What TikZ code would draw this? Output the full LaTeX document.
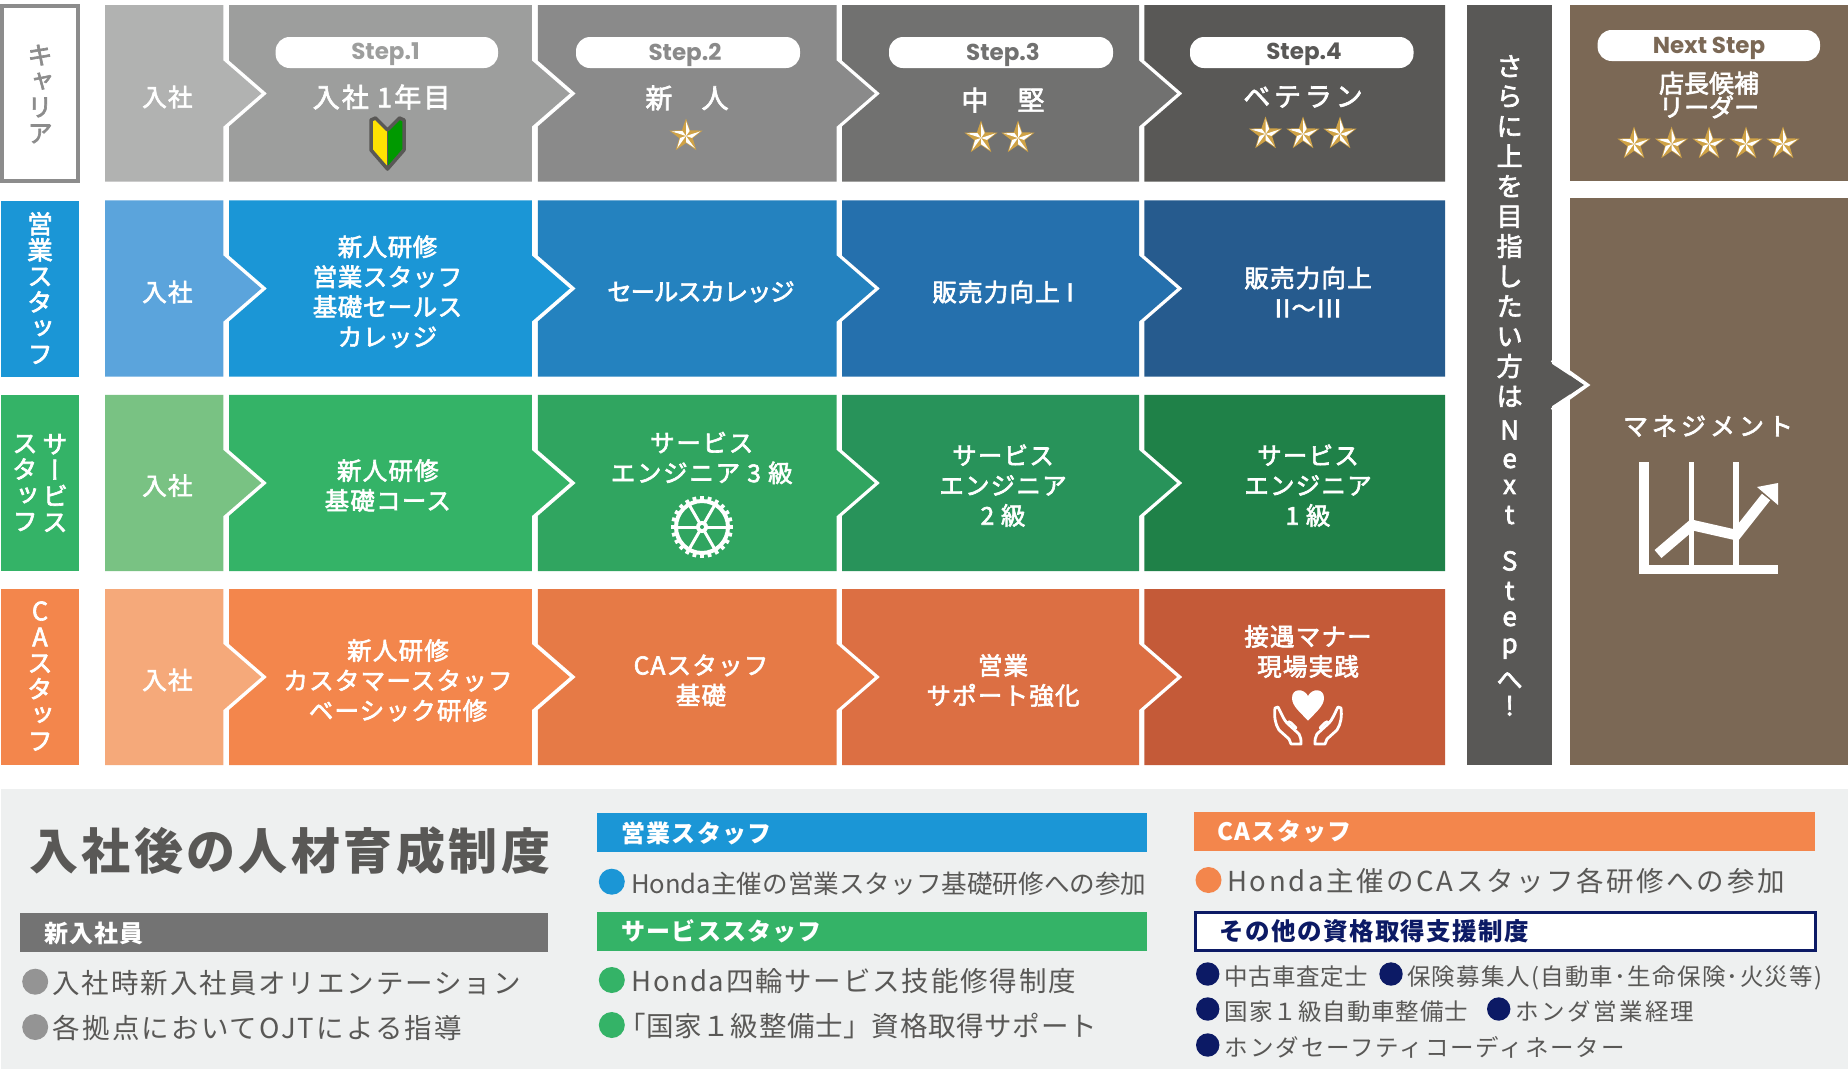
\documentclass[tikz,border=0pt]{standalone}
\usepackage{fontspec}
\setmainfont{Noto Sans CJK JP}
\newfontfamily\medf[FakeBold=2.5]{Noto Sans CJK JP}
\newfontfamily\vertf[FakeBold=2.5,RawFeature={+vert}]{Noto Sans CJK JP}
\newfontfamily\stepf{Poppins}
\newcommand\fsz[2]{\fontsize{#1}{#2}\selectfont}
\newcommand\ls[1]{\addfontfeature{LetterSpace=#1}}
\definecolor{ink}{HTML}{595856}
\definecolor{navy}{HTML}{0C1A65}
\definecolor{gold}{HTML}{CFA246}
\definecolor{brownbox}{HTML}{7B6855}
\definecolor{panel}{HTML}{EEF0F0}
\definecolor{blue1}{HTML}{1B96D6}
\definecolor{green1}{HTML}{34B367}
\definecolor{orange1}{HTML}{F3864C}
\definecolor{k0}{HTML}{B1B2B1}\definecolor{k1}{HTML}{9D9E9D}\definecolor{k2}{HTML}{8A8A8A}\definecolor{k3}{HTML}{717170}
\definecolor{b0}{HTML}{5BA4DC}\definecolor{b2}{HTML}{2482BF}\definecolor{b3}{HTML}{2570AD}\definecolor{b4}{HTML}{265B8E}
\definecolor{g0}{HTML}{79C283}\definecolor{g2}{HTML}{30A560}\definecolor{g3}{HTML}{28935A}\definecolor{g4}{HTML}{1F8148}
\definecolor{o0}{HTML}{F5A97A}\definecolor{o2}{HTML}{E67A46}\definecolor{o3}{HTML}{DC6F43}\definecolor{o4}{HTML}{C45A38}
\tikzset{
  lab/.style={text=white,align=center,inner sep=0pt,font=\medf\fsz{24.5}{30}\ls{5}},
  vlab/.style={text=white,align=center,inner sep=0pt,font=\vertf\fsz{25.5}{26}},
  pill/.style={fill=white,rounded corners=14pt},
  steptext/.style={inner sep=0pt,font=\stepf\bfseries\fsz{23}{26}},
  bar/.style={text=white,anchor=west,inner sep=0pt,font=\bfseries\fsz{24}{28}\ls{5}},
  item/.style={text=ink,anchor=base west,inner sep=0pt,font=\fsz{27.5}{30}\ls{4}},
  small/.style={text=ink,anchor=base west,inner sep=0pt,font=\fsz{23.5}{28}\ls{2}},
}
% one row of blocks: top, centre, bottom, five colours
\newcommand\blockrow[8]{%
  \fill[#4] (105.2,#1) -- (223.4,#1) -- (223.4,#2-33) -- (261.4,#2) -- (223.4,#2+33) -- (223.4,#3) -- (105.2,#3) -- cycle;
  \fill[#5] (229,#1) -- (229,#2-33) -- (267,#2) -- (229,#2+33) -- (229,#3) -- (531.8,#3) -- (531.8,#2+33) -- (569.8,#2) -- (531.8,#2-33) -- (531.8,#1) -- cycle;
  \fill[#6] (537.8,#1) -- (537.8,#2-33) -- (575.8,#2) -- (537.8,#2+33) -- (537.8,#3) -- (836.7,#3) -- (836.7,#2+33) -- (874.7,#2) -- (836.7,#2-33) -- (836.7,#1) -- cycle;
  \fill[#7] (842,#1) -- (842,#2-33) -- (880,#2) -- (842,#2+33) -- (842,#3) -- (1139,#3) -- (1139,#2+33) -- (1177,#2) -- (1139,#2-33) -- (1139,#1) -- cycle;
  \fill[#8] (1144.4,#1) -- (1144.4,#2-33) -- (1182.4,#2) -- (1144.4,#2+33) -- (1144.4,#3) -- (1445,#3) -- (1445,#1) -- cycle;
}
\newcommand\gstar[2]{%
  \begin{scope}[shift={(#1,#2)}]
    \fill[gold] (-90:17.5) -- (-54:7) -- (-18:17.5) -- (18:7) -- (54:17.5) -- (90:7) -- (126:17.5) -- (162:7) -- (198:17.5) -- (234:7) -- cycle;
    \foreach \a in {-90,-18,54,126,198} {\fill[white] (0,0) -- (\a:15) -- (\a+36:6.2) -- cycle;}
  \end{scope}}
\newcommand\dotb[4]{\fill[#4] (#1,#2) circle[radius=#3];}
\begin{document}
\begin{tikzpicture}[x=1pt,y=-1pt]
\useasboundingbox (0,0) rectangle (1848,1069);
\fill[white] (0,0) rectangle (1848,1069);
% left labels
\draw[color=black!45,line width=3.5pt,fill=white] (2,6) rectangle (78,181);
\fill[blue1] (1,201) rectangle (79,376.7);
\fill[green1] (1,395) rectangle (79,571);
\fill[orange1] (1,589) rectangle (79,765);
\node[vlab,text=black!45] (lcareer) at (40,94) {キ\\ャ\\リ\\ア};
\node[vlab] (lsales) at (40,288) {営\\業\\ス\\タ\\ッ\\フ};
\node[vlab] (lserv1) at (55,483) {サ\\ー\\ビ\\ス};
\node[vlab] (lserv2) at (25,483) {ス\\タ\\ッ\\フ};
\node[vlab] (lca) at (40,676) {C\\A\\ス\\タ\\ッ\\フ};
% rows
\blockrow{5}{93.5}{181.7}{k0}{k1}{k2}{k3}{ink}
\blockrow{200.3}{288.5}{376.7}{b0}{blue1}{b2}{b3}{b4}
\blockrow{394.8}{483}{571}{g0}{green1}{g2}{g3}{g4}
\blockrow{589}{677}{765}{o0}{orange1}{o2}{o3}{o4}
% right column
\fill[brownbox] (1570,5) rectangle (1848,181);
\fill[brownbox] (1570,198) rectangle (1848,765);
\fill[ink] (1467.3,5) rectangle (1552,765);
\draw[white,line width=4pt,miter limit=10] (1552,360) -- (1587,385) -- (1552,410);
\fill[ink] (1551,363.3) -- (1584,385) -- (1551,406.7) -- cycle;
% pills
\fill[pill] (275.6,37) rectangle (498,68);
\fill[pill] (576,37) rectangle (800,68);
\fill[pill] (889,37) rectangle (1113,68);
\fill[pill] (1190,37) rectangle (1413.5,68);
\fill[pill] (1597.6,30) rectangle (1820,61);
\node[steptext,text=k1] (s1) at (385.5,54.5) {Step.1};
\node[steptext,text=k2] (s2) at (685,54.5) {Step.2};
\node[steptext,text=k3] (s3) at (1003,54.5) {Step.3};
\node[steptext,text=ink] (s4) at (1304,54.5) {Step.4};
\node[steptext,text=brownbox] (s5) at (1709,48) {Next Step};
% header
\node[lab] (h0) at (167.4,97) {入社};
\node[lab,font=\medf\fsz{27}{30}\ls{8}] (h1) at (381.6,97) {入社 1年目};
\node[lab,font=\medf\fsz{27}{30}\ls{4}] (h2) at (687,98) {新　人};
\node[lab,font=\medf\fsz{27}{30}\ls{4}] (h3) at (1003,100) {中　堅};
\node[lab,font=\medf\fsz{27}{30}\ls{14}] (h4) at (1303,97) {ベテラン};
\node[lab,font=\medf\fsz{25}{24}] (h5) at (1709,95) {店長候補\\リーダー};
% beginner mark
\fill[yellow!85!orange] (387.5,132) -- (374,118) -- (372,122) -- (372,149) -- (387.5,168) -- cycle;
\fill[green!60!black] (387.5,132) -- (401,118) -- (403,122) -- (403,149) -- (387.5,168) -- cycle;
\draw[ink,line width=3.5pt,line join=round] (387.5,130) -- (375.5,118) -- (371,120) -- (371,150) -- (387.5,169) -- (404,150) -- (404,120) -- (399.5,118) -- cycle;
\draw[ink,line width=1pt] (387.5,130) -- (387.5,169);
\gstar{686}{136}
\gstar{981}{138}\gstar{1018}{138}
\gstar{1265.5}{134}\gstar{1303}{134}\gstar{1340}{134}
\gstar{1634}{144}\gstar{1671.6}{144}\gstar{1709}{144}\gstar{1746}{144}\gstar{1783}{144}
% row 1
\node[lab] (a0) at (167.4,292) {入社};
\node[lab,font=\medf\fsz{24.5}{30}\ls{2}] (a1) at (387.5,291.7) {新人研修\\営業スタッフ\\基礎セールス\\カレッジ};
\node[lab,font=\medf\fsz{24.5}{30}\ls{-5}] (a2) at (701,292) {セールスカレッジ};
\node[lab] (a3) at (1003,292) {販売力向上 I};
\node[lab] (a4) at (1308,292) {販売力向上\\II〜III};
% row 2
\node[lab] (b0) at (167.4,485.6) {入社};
\node[lab] (b1) at (387.8,485.5) {新人研修\\基礎コース};
\node[lab,font=\medf\fsz{24.5}{30}\ls{7}] (b2) at (701.7,458) {サービス\\エンジニア 3 級};
\node[lab] (b3) at (1003,485.6) {サービス\\エンジニア\\2 級};
\node[lab] (b4) at (1308,485.6) {サービス\\エンジニア\\1 級};
% gear
\begin{scope}[shift={(702,527)}]
  \draw[white,line width=4pt] (0,0) circle[radius=26];
  \foreach \a in {0,15,...,345} {\draw[white,line width=3.8pt] (\a:26) -- (\a:31);}
  \foreach \a in {0,60,...,300} {\draw[white,line width=3pt] (0,0) -- (\a:26);}
  \fill[white] (0,0) circle[radius=6];
  \fill[g2] (0,0) circle[radius=2];
\end{scope}
% row 3
\node[lab] (c0) at (167.4,680) {入社};
\node[lab] (c1) at (398,680.5) {新人研修\\カスタマースタッフ\\ベーシック研修};
\node[lab] (c2) at (701,680.5) {CAスタッフ\\基礎};
\node[lab] (c3) at (1003,680.5) {営業\\サポート強化};
\node[lab] (c4) at (1308,651.5) {接遇マナー\\現場実践};
% heart and hands
\fill[white] (1308,720.7) .. controls (1300,712) and (1292,706) .. (1292,698) .. controls (1292,688) and (1304,688) .. (1308,696) .. controls (1312,688) and (1324,688) .. (1324,698) .. controls (1324,706) and (1316,712) .. (1308,720.7) -- cycle;
\foreach \s in {1,-1} {
\begin{scope}[shift={(1308,0)},xscale=\s]
  \draw[white,line width=2.8pt,line join=round,line cap=round] (-33,708) -- (-30,707) .. controls (-26,715) and (-24,720) .. (-21,723) -- (-9,734) .. controls (-7,737) and (-7,740) .. (-7,744) -- (-17,744) -- (-19,739) -- (-29,730) .. controls (-33,724) and (-34,716) .. (-33,708) -- cycle;
  \draw[white,line width=2.8pt,line cap=round] (-21,723) .. controls (-18,720) and (-16,724) .. (-12,728);
\end{scope}}
% strip text
\node[text=white,align=center,inner sep=0pt,anchor=north,font=\medf\fsz{26}{30}] (strip) at (1509.6,55)
 {さ\\ら\\に\\上\\を\\目\\指\\し\\た\\い\\方\\は\\[3.5pt]N\\[-1.5pt]e\\[-4pt]x\\t\\[16.5pt]S\\[-.5pt]t\\[-4pt]e\\[-3pt]p\\[6pt]へ\\[-3.5pt]!};
\node[lab,font=\medf\fsz{25}{30}\ls{16}] (mgmt) at (1708,426) {マネジメント};
% chart
\begin{scope}[white]
  \fill (1639.3,461.7) rectangle (1649,574);
  \fill (1639.3,565) rectangle (1778,574);
  \fill (1688.7,461.7) rectangle (1693.7,565);
  \fill (1733,461.7) rectangle (1738.7,565);
  \draw[line width=10.5pt,line join=miter,white] (1658,554) -- (1692,525) -- (1736,535) -- (1766,497);
  \fill (1778,483) -- (1757,487) -- (1778,505) -- cycle;
\end{scope}
% bottom panel
\fill[panel] (1,789.3) rectangle (1848,1069);
\node[text=ink,anchor=west,inner sep=0pt,font=\bfseries\fsz{49}{50}\ls{7}] (title) at (29,850.5) {入社後の人材育成制度};
\fill[black!55] (20.3,913.3) rectangle (548,952);
\node[bar] (t1) at (44,933.5) {新入社員};
\dotb{35.2}{981.7}{13}{black!42}
\node[item,font=\fsz{27.5}{30}\ls{7}] (i1) at (52.4,993) {入社時新入社員オリエンテーション};
\dotb{35.2}{1027}{13}{black!42}
\node[item,font=\fsz{27.5}{30}\ls{8}] (i2) at (52.4,1038) {各拠点においてOJTによる指導};
\fill[blue1] (596.5,813.3) rectangle (1147,851.7);
\node[bar] (t2) at (621.4,833) {営業スタッフ};
\dotb{611.8}{881.7}{13}{blue1}
\node[item,font=\fsz{25.6}{30}] (i3) at (631,893) {Honda主催の営業スタッフ基礎研修への参加};
\fill[green1] (596.5,911.7) rectangle (1147,950.7);
\node[bar] (t3) at (621.4,931.5) {サービススタッフ};
\dotb{611.8}{980}{13}{green1}
\node[item,font=\fsz{27.5}{30}\ls{6.5}] (i4) at (631,991.5) {Honda四輪サービス技能修得制度};
\dotb{611.8}{1025}{13}{green1}
\node[item,font=\fsz{27.5}{30}\ls{2.5}] (i5) at (618,1036.5) {「国家１級整備士」資格取得サポート};
\fill[orange1] (1193.6,811.7) rectangle (1815,850.7);
\node[bar] (t4) at (1217.5,832) {CAスタッフ};
\dotb{1208.5}{880}{13}{orange1}
\node[item,font=\fsz{27.5}{30}\ls{9.5}] (i6) at (1227,891.5) {Honda主催のCAスタッフ各研修への参加};
\draw[navy,line width=3pt,fill=white] (1195,912.2) rectangle (1815,950.2);
\node[bar,text=navy,font=\bfseries\fsz{24.5}{28}\ls{6}] (t5) at (1219,931.5) {その他の資格取得支援制度};
\dotb{1207.7}{974}{11.7}{navy}
\node[small] (j1) at (1224.7,985) {中古車査定士};
\dotb{1391}{974}{11.7}{navy}
\node[small,font=\fsz{23.5}{28}\ls{5.5}] (j2) at (1407,985) {保険募集人(自動車･生命保険･火災等)};
\dotb{1207.7}{1009}{11.7}{navy}
\node[small,font=\fsz{23.5}{28}\ls{4}] (j3) at (1224.7,1020) {国家１級自動車整備士};
\dotb{1498.7}{1009}{11.7}{navy}
\node[small,font=\fsz{23.5}{28}\ls{10}] (j4) at (1515.7,1020) {ホンダ営業経理};
\dotb{1207.7}{1045}{11.7}{navy}
\node[small,font=\fsz{23.5}{28}\ls{8}] (j5) at (1224.7,1056) {ホンダセーフティコーディネーター};
\end{tikzpicture}
\end{document}
